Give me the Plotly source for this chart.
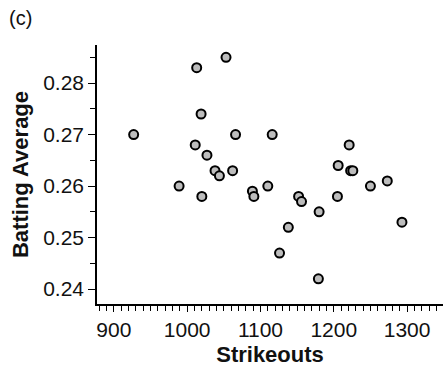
import plotly.graph_objects as go

strikeouts = [927, 989, 1011, 1013, 1019, 1020, 1027, 1038, 1044, 1053,
              1062, 1066, 1089, 1091, 1110, 1116, 1126, 1138, 1152, 1156,
              1179, 1180, 1205, 1206, 1221, 1223, 1226, 1250, 1273, 1293]
batting_avg = [0.270, 0.260, 0.268, 0.283, 0.274, 0.258, 0.266, 0.263, 0.262, 0.285,
               0.263, 0.270, 0.259, 0.258, 0.260, 0.270, 0.247, 0.252, 0.258, 0.257,
               0.242, 0.255, 0.258, 0.264, 0.268, 0.263, 0.263, 0.260, 0.261, 0.253]

FONT = "Liberation Sans, Arial, Helvetica, sans-serif"

fig = go.Figure()
fig.add_trace(go.Scatter(
    x=strikeouts, y=batting_avg, mode="markers",
    marker=dict(size=9, color="#bdbdbd", line=dict(color="black", width=2)),
    showlegend=False,
))

fig.update_layout(
    width=444, height=369,
    margin=dict(l=97, r=1, t=45, b=65),
    paper_bgcolor="white", plot_bgcolor="white",
    font=dict(family=FONT, size=21, color="#111111"),
    xaxis=dict(
        range=[877, 1349], dtick=100, tick0=900,
        showline=True, linecolor="black", linewidth=1.5,
        ticks="outside", ticklen=6, tickwidth=1.2, tickcolor="black",
        minor=dict(dtick=10, tick0=900, ticks="outside", ticklen=5, tickwidth=1, tickcolor="black"),
        showgrid=False, zeroline=False,
        title=dict(text="<b>Strikeouts</b>", standoff=7, font=dict(size=22)),
        tickfont=dict(size=21),
    ),
    yaxis=dict(
        range=[0.2371, 0.2874], dtick=0.01, tick0=0.24, tickformat=".2f",
        showline=True, linecolor="black", linewidth=1.5,
        ticks="outside", ticklen=7, tickwidth=1.2, tickcolor="black",
        minor=dict(dtick=0.005, tick0=0.24, ticks="outside", ticklen=5, tickwidth=1, tickcolor="black"),
        showgrid=False, zeroline=False,
        title=dict(text="<b>Batting Average</b>", standoff=8, font=dict(size=22)),
        tickfont=dict(size=21),
    ),
    annotations=[dict(text="(c)", xref="x domain", yref="y domain",
                      x=-90/346, y=1 + 40/259,
                      xanchor="left", yanchor="top", showarrow=False,
                      font=dict(size=20))],
)

fig.write_html("out.html")
